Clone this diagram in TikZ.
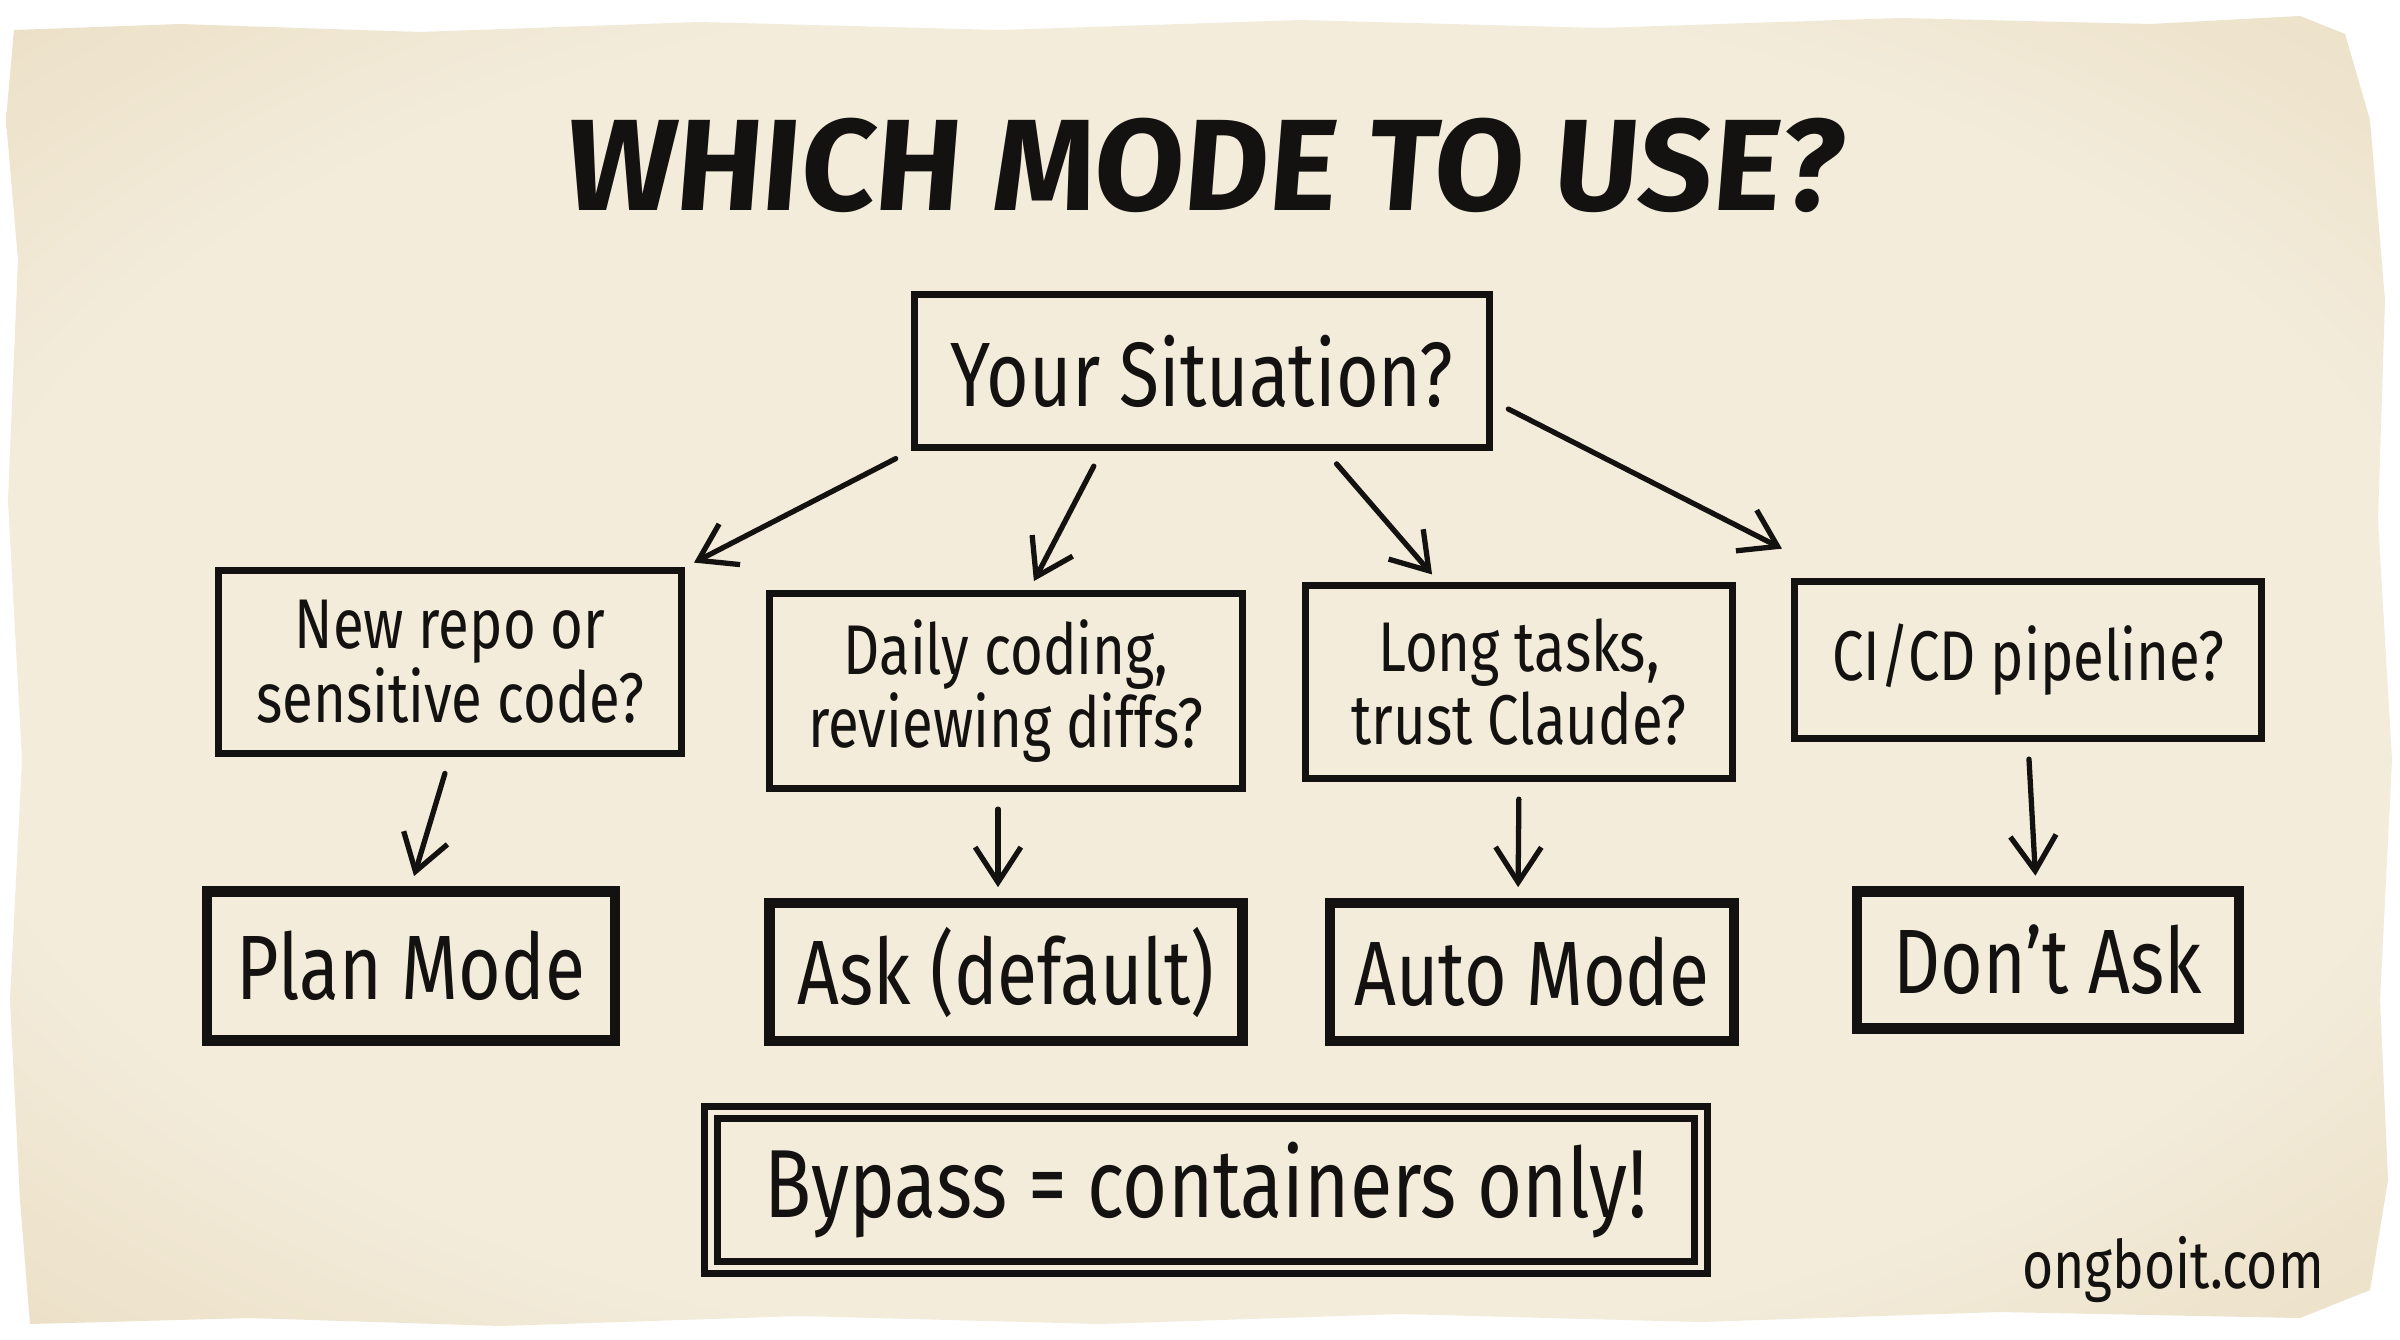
\documentclass[tikz,border=0pt]{standalone}
\usepackage{xcolor}
\usepackage{fontspec}
\setmainfont{Fira Sans}[FakeStretch=0.8]
\newfontfamily\titlefont{Fira Sans}[FakeSlant=0.08]
\usetikzlibrary{arrows.meta}

\definecolor{paperlight}{RGB}{243,236,219}
\definecolor{papermid}{RGB}{230,214,182}
\definecolor{paperdark}{RGB}{208,180,132}
\definecolor{ink}{RGB}{20,18,16}

\pgfdeclareradialshading{parchment}{\pgfpoint{0bp}{0bp}}{color(0bp)=(paperlight); color(26bp)=(paperlight); color(43bp)=(papermid); color(54bp)=(paperdark); color(75bp)=(paperdark)}

\begin{document}
\begin{tikzpicture}[x=0.01cm, y=-0.01cm,
                question/.style={draw=ink, line width=2pt, line cap=round, inner sep=0pt, align=center, text=ink, font=\fontsize{20}{21}\selectfont},
                answer/.style={draw=ink, line width=3pt, line cap=round, inner sep=0pt, text=ink, font=\fontsize{26}{28}\selectfont},
                arr/.style={draw=ink, line width=1.5pt, line cap=round, -{Straight Barb[length=10pt,width=13pt]}, shorten <=5pt, shorten >=3pt}]

                \fill[white] (0,0) rectangle (2400,1339);
                \shade[shading=parchment] (14,30) -- (180,24) -- (420,32) -- (700,22) -- (1000,30) -- (1300,20) -- (1600,28) -- (1900,18) -- (2150,24) -- (2300,16) -- (2345,34) -- (2370,120) -- (2385,300) -- (2378,520) -- (2392,760) -- (2380,1000) -- (2388,1180) -- (2370,1290) -- (2300,1318) -- (2000,1312) -- (1700,1322) -- (1400,1314) -- (1100,1324) -- (800,1316) -- (500,1326) -- (250,1318) -- (30,1324) -- (20,1200) -- (10,1000) -- (22,760) -- (8,500) -- (18,260) -- (6,120) -- cycle;

                \node[text=ink] (title) at (1202,165) {\titlefont\bfseries\fontsize{37}{40}\selectfont WHICH MODE TO USE?};

                \node[question, minimum width=5.74cm, minimum height=1.52cm, font=\fontsize{26}{28}\selectfont] (sit) at (1202,371) {Your Situation?};

                \node[question, minimum width=4.62cm, minimum height=1.82cm] (q1) at (450,662) {New repo or\\sensitive code?};
                \node[question, minimum width=4.73cm, minimum height=1.94cm] (q2) at (1006,691) {Daily coding,\\reviewing diffs?};
                \node[question, minimum width=4.27cm, minimum height=1.92cm] (q3) at (1519,682) {Long tasks,\\trust Claude?};
                \node[question, minimum width=4.66cm, minimum height=1.56cm] (q4) at (2028,660) {CI/CD pipeline?};

                \node[answer, minimum width=4.08cm, minimum height=1.49cm] (plan) at (411,966) {Plan Mode};
                \node[answer, minimum width=4.73cm, minimum height=1.38cm] (ask) at (1006,972) {Ask (default)};
                \node[answer, minimum width=4.04cm, minimum height=1.38cm] (auto) at (1532,972) {Auto Mode};
                \node[answer, minimum width=3.82cm, minimum height=1.37cm] (dont) at (2048,960) {Don’t Ask};

                \node[answer, double=paperlight, double distance=1.6pt, line width=2pt, minimum width=9.9cm, minimum height=1.55cm, font=\fontsize{27.5}{30}\selectfont] (bypass) at (1206,1190) {Bypass = containers only!};

                \node[text=ink, font=\fontsize{19}{21}\selectfont] (site) at (2173,1270) {ongboit.com};

                \draw[arr] (sit.south west) -- (q1.north east);
                \draw[arr] ([xshift=-1cm]sit.south) -- ([xshift=0.23cm]q2.north);
                \draw[arr] ([xshift=1.23cm]sit.south) -- ([xshift=-0.8cm]q3.north);
                \draw[arr] ([yshift=-0.3cm]sit.east) -- ([yshift=0.25cm]q4.north west);

                \draw[arr] (q1.south) -- (plan.north);
                \draw[arr] ([xshift=-0.08cm]q2.south) -- ([xshift=-0.08cm]ask.north);
                \draw[arr] (q3.south) -- ([xshift=-0.14cm]auto.north);
                \draw[arr] (q4.south) -- ([xshift=-0.12cm]dont.north);
            \end{tikzpicture}
\end{document}
